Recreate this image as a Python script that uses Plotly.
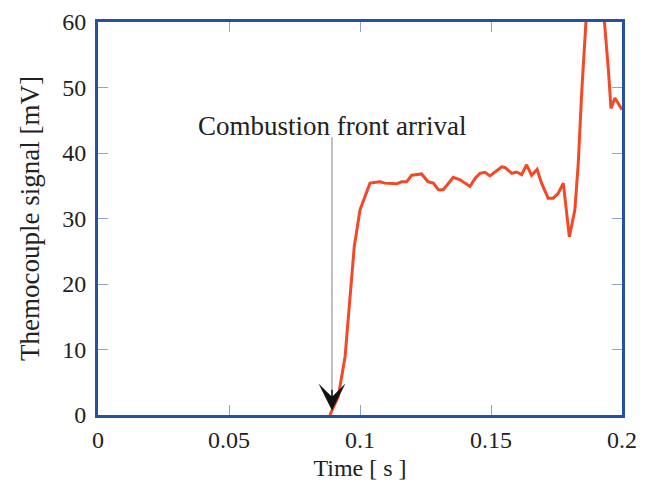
import plotly.graph_objects as go

time_s = [0.0885, 0.0917, 0.0943, 0.0962, 0.0978, 0.1000, 0.1038, 0.1076, 0.1095, 0.1140,
          0.1159, 0.1178, 0.1197, 0.1235, 0.1260, 0.1280, 0.1299, 0.1318, 0.1356, 0.1382,
          0.1420, 0.1439, 0.1458, 0.1477, 0.1496, 0.1541, 0.1553, 0.1579, 0.1598, 0.1617,
          0.1636, 0.1655, 0.1676, 0.1693, 0.1718, 0.1737, 0.1756, 0.1776, 0.1799, 0.1820,
          0.1833, 0.1846, 0.1862, 0.1900, 0.1935, 0.1948, 0.1958, 0.1973, 0.2000]
signal_mv = [0, 2.8, 8.9, 17.6, 25.7, 31.3, 35.4, 35.6, 35.4, 35.3,
             35.6, 35.6, 36.6, 36.8, 35.6, 35.4, 34.4, 34.4, 36.3, 35.9,
             34.9, 36.1, 36.9, 37.05, 36.5, 37.9, 37.8, 36.9, 37.1, 36.7,
             38.2, 36.6, 37.5, 35.4, 33.1, 33.1, 33.8, 35.4, 27.2, 31.3,
             38.4, 49.1, 59.8, 76.0, 59.8, 52.7, 46.8, 48.4, 46.6]

x_ticks = [0, 0.05, 0.1, 0.15, 0.2]
x_tick_labels = ["0", "0.05", "0.1", "0.15", "0.2"]
y_ticks = [0, 10, 20, 30, 40, 50, 60]
y_tick_labels = ["0", "10", "20", "30", "40", "50", "60"]

arrival_time = 0.0893
arrival_label = "Combustion front arrival"
label_y = 44.1
arrow_top = 42.4
arrow_tip = 0.7

FONT = "Liberation Serif"
AXIS_BLUE = "#2452a3"
TICK_BLUE = "#8ea4d8"
TEXT = "#222222"

fig = go.Figure()
fig.add_trace(go.Scatter(x=time_s, y=signal_mv, mode="lines",
                         line=dict(color="#f24a26", width=3), showlegend=False))

# gray arrow shaft
fig.add_shape(type="line", x0=arrival_time, x1=arrival_time, y0=arrow_top, y1=arrow_tip + 2,
              xref="x", yref="y", line=dict(color="#808080", width=1))
# black arrowhead
fig.add_annotation(x=arrival_time, y=arrow_tip, ax=arrival_time, ay=arrow_tip + 3.4,
                   axref="x", ayref="y", xref="x", yref="y", text="", showarrow=True,
                   arrowhead=3, arrowsize=3.0, arrowwidth=1.5, arrowcolor="#111111")
fig.add_annotation(x=arrival_time, y=label_y, text=arrival_label, showarrow=False,
                   xanchor="center", yanchor="middle",
                   font=dict(family=FONT, size=27, color=TEXT))

axis_common = dict(showgrid=False, zeroline=False, showline=True, linecolor=AXIS_BLUE,
                   linewidth=3, mirror="ticks", ticks="inside", ticklen=10,
                   tickcolor=TICK_BLUE, tickwidth=1, automargin=False,
                   tickfont=dict(family=FONT, size=24, color=TEXT))

fig.update_xaxes(range=[0, 0.2], tickvals=x_ticks, ticktext=x_tick_labels,
                 ticklabelstandoff=1,
                 title=dict(text="Time [ s ]", font=dict(family=FONT, size=24, color=TEXT),
                            standoff=8),
                 **axis_common)
fig.update_yaxes(range=[0, 60], tickvals=y_ticks, ticktext=y_tick_labels,
                 ticklabelstandoff=4,
                 title=dict(text="Themocouple signal [mV]",
                            font=dict(family=FONT, size=27, color=TEXT), standoff=15),
                 **axis_common)

fig.update_layout(width=641, height=476, margin=dict(l=90, r=27, t=14, b=69),
                  paper_bgcolor="white", plot_bgcolor="white",
                  font=dict(family=FONT, color=TEXT))

fig.write_html("out.html")
